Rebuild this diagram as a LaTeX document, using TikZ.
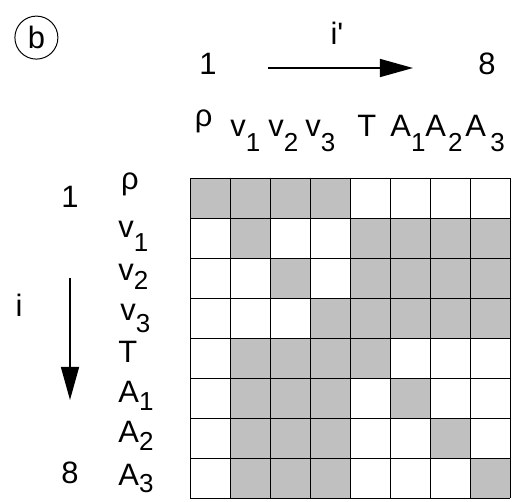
\documentclass[tikz,border=0pt]{standalone}
\usepackage{fontspec}
\setmainfont{Liberation Sans}
\usetikzlibrary{arrows.meta}

\definecolor{cellgray}{RGB}{192,192,192}
\newcommand{\lowsub}[2][8pt]{\raisebox{-#1}{\fontsize{18.5}{20}\selectfont #2}}

\begin{document}
\begin{tikzpicture}[
            > = {Triangle[length=0.83cm, width=0.45cm]}, % arrow head style
            x = 1cm, y = 1cm, % one unit = one cell
            line width = 0.7pt
        ]

        \tikzstyle{headtext}=[inner sep = 0pt, font = \fontsize{22}{24}\selectfont]
        \tikzstyle{axisarrow}=[->, line width = 1.3pt]

        \useasboundingbox (-4.75,4.45) rectangle (8.275,-8.075);

        % shaded blocks, col/row
        \foreach \c/\r in {0/0,1/0,2/0,3/0,
                           1/1,4/1,5/1,6/1,7/1,
                           2/2,4/2,5/2,6/2,7/2,
                           3/3,4/3,5/3,6/3,7/3,
                           1/4,2/4,3/4,4/4,
                           1/5,2/5,3/5,5/5,
                           1/6,2/6,3/6,6/6,
                           1/7,2/7,3/7,7/7}
            \fill[cellgray] (\c,-\r) rectangle ++(1,-1);
        \draw (0,0) grid (8,-8);

        \node[draw, circle, minimum size = 1.075cm, inner sep = 0pt,
              font = \fontsize{22}{24}\selectfont] (tag) at (-3.84,3.51) {b};

        % column heads
        \node[headtext] (iprime) at (3.675,3.625) {i\textquotesingle};
        \node[headtext] (cfirst) at (0.45,2.85) {1};
        \node[headtext] (clast) at (7.425,2.85) {8};
        \coordinate (cfrom) at (1.95,2.75);
        \coordinate (cto) at (5.575,2.75);
        \draw[axisarrow] (cfrom) -- (cto);

        \node[headtext] (crho) at (0.34,1.425) {ρ};
        \node[headtext, anchor = base west] (cv1) at (1.0,1.05) {v\lowsub[11pt]{1}};
        \node[headtext, anchor = base west] (cv2) at (1.95,1.05) {v\lowsub[11pt]{2}};
        \node[headtext, anchor = base west] (cv3) at (2.875,1.05) {v\lowsub[11pt]{3}};
        \node[headtext, anchor = base west] (cT) at (4.175,1.05) {T};
        \node[headtext, anchor = base west] (cA1) at (5.0,1.05) {A\lowsub[11pt]{1}};
        \node[headtext, anchor = base west] (cA2) at (5.875,1.05) {A\kern1.5pt\lowsub[11pt]{2}};
        \node[headtext, anchor = base west] (cA3) at (6.875,1.05) {A\kern3pt\lowsub[11pt]{3}};

        % row heads
        \node[headtext] (irow) at (-4.275,-3.175) {i};
        \node[headtext] (rfirst) at (-3,-0.475) {1};
        \node[headtext] (rlast) at (-3,-7.375) {8};
        \coordinate (rfrom) at (-3,-2.5);
        \coordinate (rto) at (-3,-5.55);
        \draw[axisarrow] (rfrom) -- (rto);

        \node[headtext] (rrho) at (-1.5,-0.15) {ρ};
        \node[headtext, anchor = base west] (rv1) at (-1.8,-1.475) {v\lowsub[10pt]{1}};
        \node[headtext, anchor = base west] (rv2) at (-1.8,-2.55) {v\lowsub[7pt]{2}};
        \node[headtext, anchor = base west] (rv3) at (-1.75,-3.55) {v\lowsub[9pt]{3}};
        \node[headtext, anchor = base west] (rT) at (-1.8,-4.6) {T};
        \node[headtext, anchor = base west] (rA1) at (-1.8,-5.6) {A\lowsub[6pt]{1}};
        \node[headtext, anchor = base west] (rA2) at (-1.8,-6.6) {A\lowsub[6pt]{2}};
        \node[headtext, anchor = base west] (rA3) at (-1.8,-7.675) {A\lowsub[5pt]{3}};

    \end{tikzpicture}
\end{document}
